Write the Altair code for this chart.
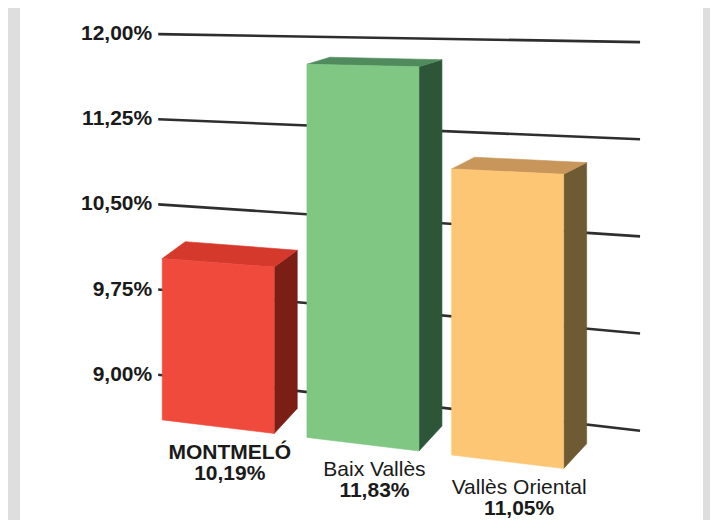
import altair as alt
import pandas as pd

# ---- data ----
CATEGORIES = ["MONTMELÓ", "Baix Vallès", "Vallès Oriental"]
VALUES = [10.19, 11.83, 11.05]
BOLD_NAME = [True, False, False]
FRONT = ["#ef4a3c", "#80c784", "#fdc674"]
TOP = ["#d5392c", "#4f8b5c", "#c8965a"]
SIDE = ["#7a1e16", "#2d5638", "#6e5a33"]
TICKS = [9.0, 9.75, 10.5, 11.25, 12.0]
TICK_LABELS = ["9,00%", "9,75%", "10,50%", "11,25%", "12,00%"]
FLOOR = 8.85  # value level of the (hidden) floor

# ---- layout / style ----
W, H = 683, 512
XDOM = [-1.37, 3.35]
YDOM = [7.72, 12.23]
PXU = W / (XDOM[1] - XDOM[0])
PYU = H / (YDOM[1] - YDOM[0])
GL, GR = -0.415, 2.915      # gridline extent (category units)
HW = 0.387                  # half bar width (category units)
DX = 23 / PXU               # depth shift to the right
FONT = "Liberation Sans"


def drop(v):
    return (8 + 16 * (12 - v)) / PYU


def yback(x, v):
    return v - (x - GL) * drop(v) / (GR - GL)


def depth(v):
    return (6 + 6 * (12 - v)) / PYU


def lerp(x0, y0, x1, y1, x):
    return y0 + (y1 - y0) * (x - x0) / (x1 - x0)


face_rows = []
label_rows = []
for i, (name, v) in enumerate(zip(CATEGORIES, VALUES)):
    xl, xr = i - HW, i + HW
    bxl, bxr = xl + DX, xr + DX
    btl, btr = yback(bxl, v), yback(bxr, v)
    bbl, bbr = yback(bxl, FLOOR), yback(bxr, FLOOR)
    ftl, ftr = btl - depth(v), btr - depth(v)
    fbl, fbr = bbl - depth(FLOOR), bbr - depth(FLOOR)
    # side face
    for x, y, y2 in [(xr, ftr, fbr), (bxr, btr, bbr)]:
        face_rows.append(dict(g=f"s{i}", layer=0, x=x, y=y, y2=y2, fill=SIDE[i]))
    # top face
    pts = [
        (xl, ftl, ftl),
        (bxl, btl, lerp(xl, ftl, xr, ftr, bxl)),
        (xr, lerp(bxl, btl, bxr, btr, xr), ftr),
        (bxr, btr, btr),
    ]
    for x, y, y2 in pts:
        face_rows.append(dict(g=f"t{i}", layer=1, x=x, y=y, y2=y2, fill=TOP[i]))
    # front face
    for x, y, y2 in [(xl, ftl, fbl), (xr, ftr, fbr)]:
        face_rows.append(dict(g=f"f{i}", layer=2, x=x, y=y, y2=y2, fill=FRONT[i]))
    yb = (fbl + fbr) / 2
    label_rows.append(dict(
        x=i + DX * 0.5, y1=yb - 32 / PYU, y2=yb - 53 / PYU,
        name=name, val=f"{v:.2f}".replace(".", ",") + "%",
        bold=BOLD_NAME[i]))

faces = pd.DataFrame(face_rows)
labels = pd.DataFrame(label_rows)
grid = pd.DataFrame(dict(v=TICKS, lab=TICK_LABELS))
grid["x"] = GL
grid["x2"] = GR
grid["v2"] = [t - drop(t) for t in TICKS]
grid["xl"] = GL - 6 / PXU

xs = alt.Scale(domain=XDOM, nice=False, zero=False)
ys = alt.Scale(domain=YDOM, nice=False, zero=False)


def X(f):
    return alt.X(f"{f}:Q", scale=xs, axis=None)


def Y(f):
    return alt.Y(f"{f}:Q", scale=ys, axis=None, stack=None)


rules = alt.Chart(grid).mark_rule(color="#2e2e2e", strokeWidth=2.6).encode(
    x=X("x"), x2="x2", y=Y("v"), y2="v2")

tick_text = alt.Chart(grid).mark_text(
    align="right", baseline="middle", font=FONT, fontSize=21,
    fontWeight="bold", color="#1a1a1a").encode(x=X("xl"), y=Y("v"), text="lab:N")

areas = []
for g, sub in faces.groupby("g", sort=False):
    col = sub["fill"].iloc[0]
    areas.append(
        alt.Chart(sub.drop(columns=["fill"])).mark_area(
            orient="vertical", interpolate="linear", color=col,
            stroke=col, strokeWidth=0.6, opacity=1).encode(
            x=X("x"), y=Y("y"), y2="y2")
    )
# draw all side faces first, then tops, then fronts
order_key = {"s": 0, "t": 1, "f": 2}
keys = list(faces.groupby("g", sort=False).groups.keys())
areas = [a for _, a in sorted(zip(keys, areas), key=lambda p: (order_key[p[0][0]], p[0]))]

name_bold = alt.Chart(labels).transform_filter("datum.bold").mark_text(
    align="center", baseline="alphabetic", font=FONT, fontSize=21,
    fontWeight="bold", color="#1a1a1a").encode(x=X("x"), y=Y("y1"), text="name:N")
name_norm = alt.Chart(labels).transform_filter("!datum.bold").mark_text(
    align="center", baseline="alphabetic", font=FONT, fontSize=21,
    fontWeight="normal", color="#1a1a1a").encode(x=X("x"), y=Y("y1"), text="name:N")
val_text = alt.Chart(labels).mark_text(
    align="center", baseline="alphabetic", font=FONT, fontSize=21,
    fontWeight="bold", color="#1a1a1a").encode(x=X("x"), y=Y("y2"), text="val:N")

chart = alt.layer(rules, tick_text, *areas, name_bold, name_norm, val_text).properties(
    width=W, height=H,
    padding={"left": 12, "top": 0, "right": 7, "bottom": 0},
    background="#dedede",
).configure_view(fill="white", stroke=None)

chart.save("out.html", embed_options={"renderer": "svg", "actions": False})
